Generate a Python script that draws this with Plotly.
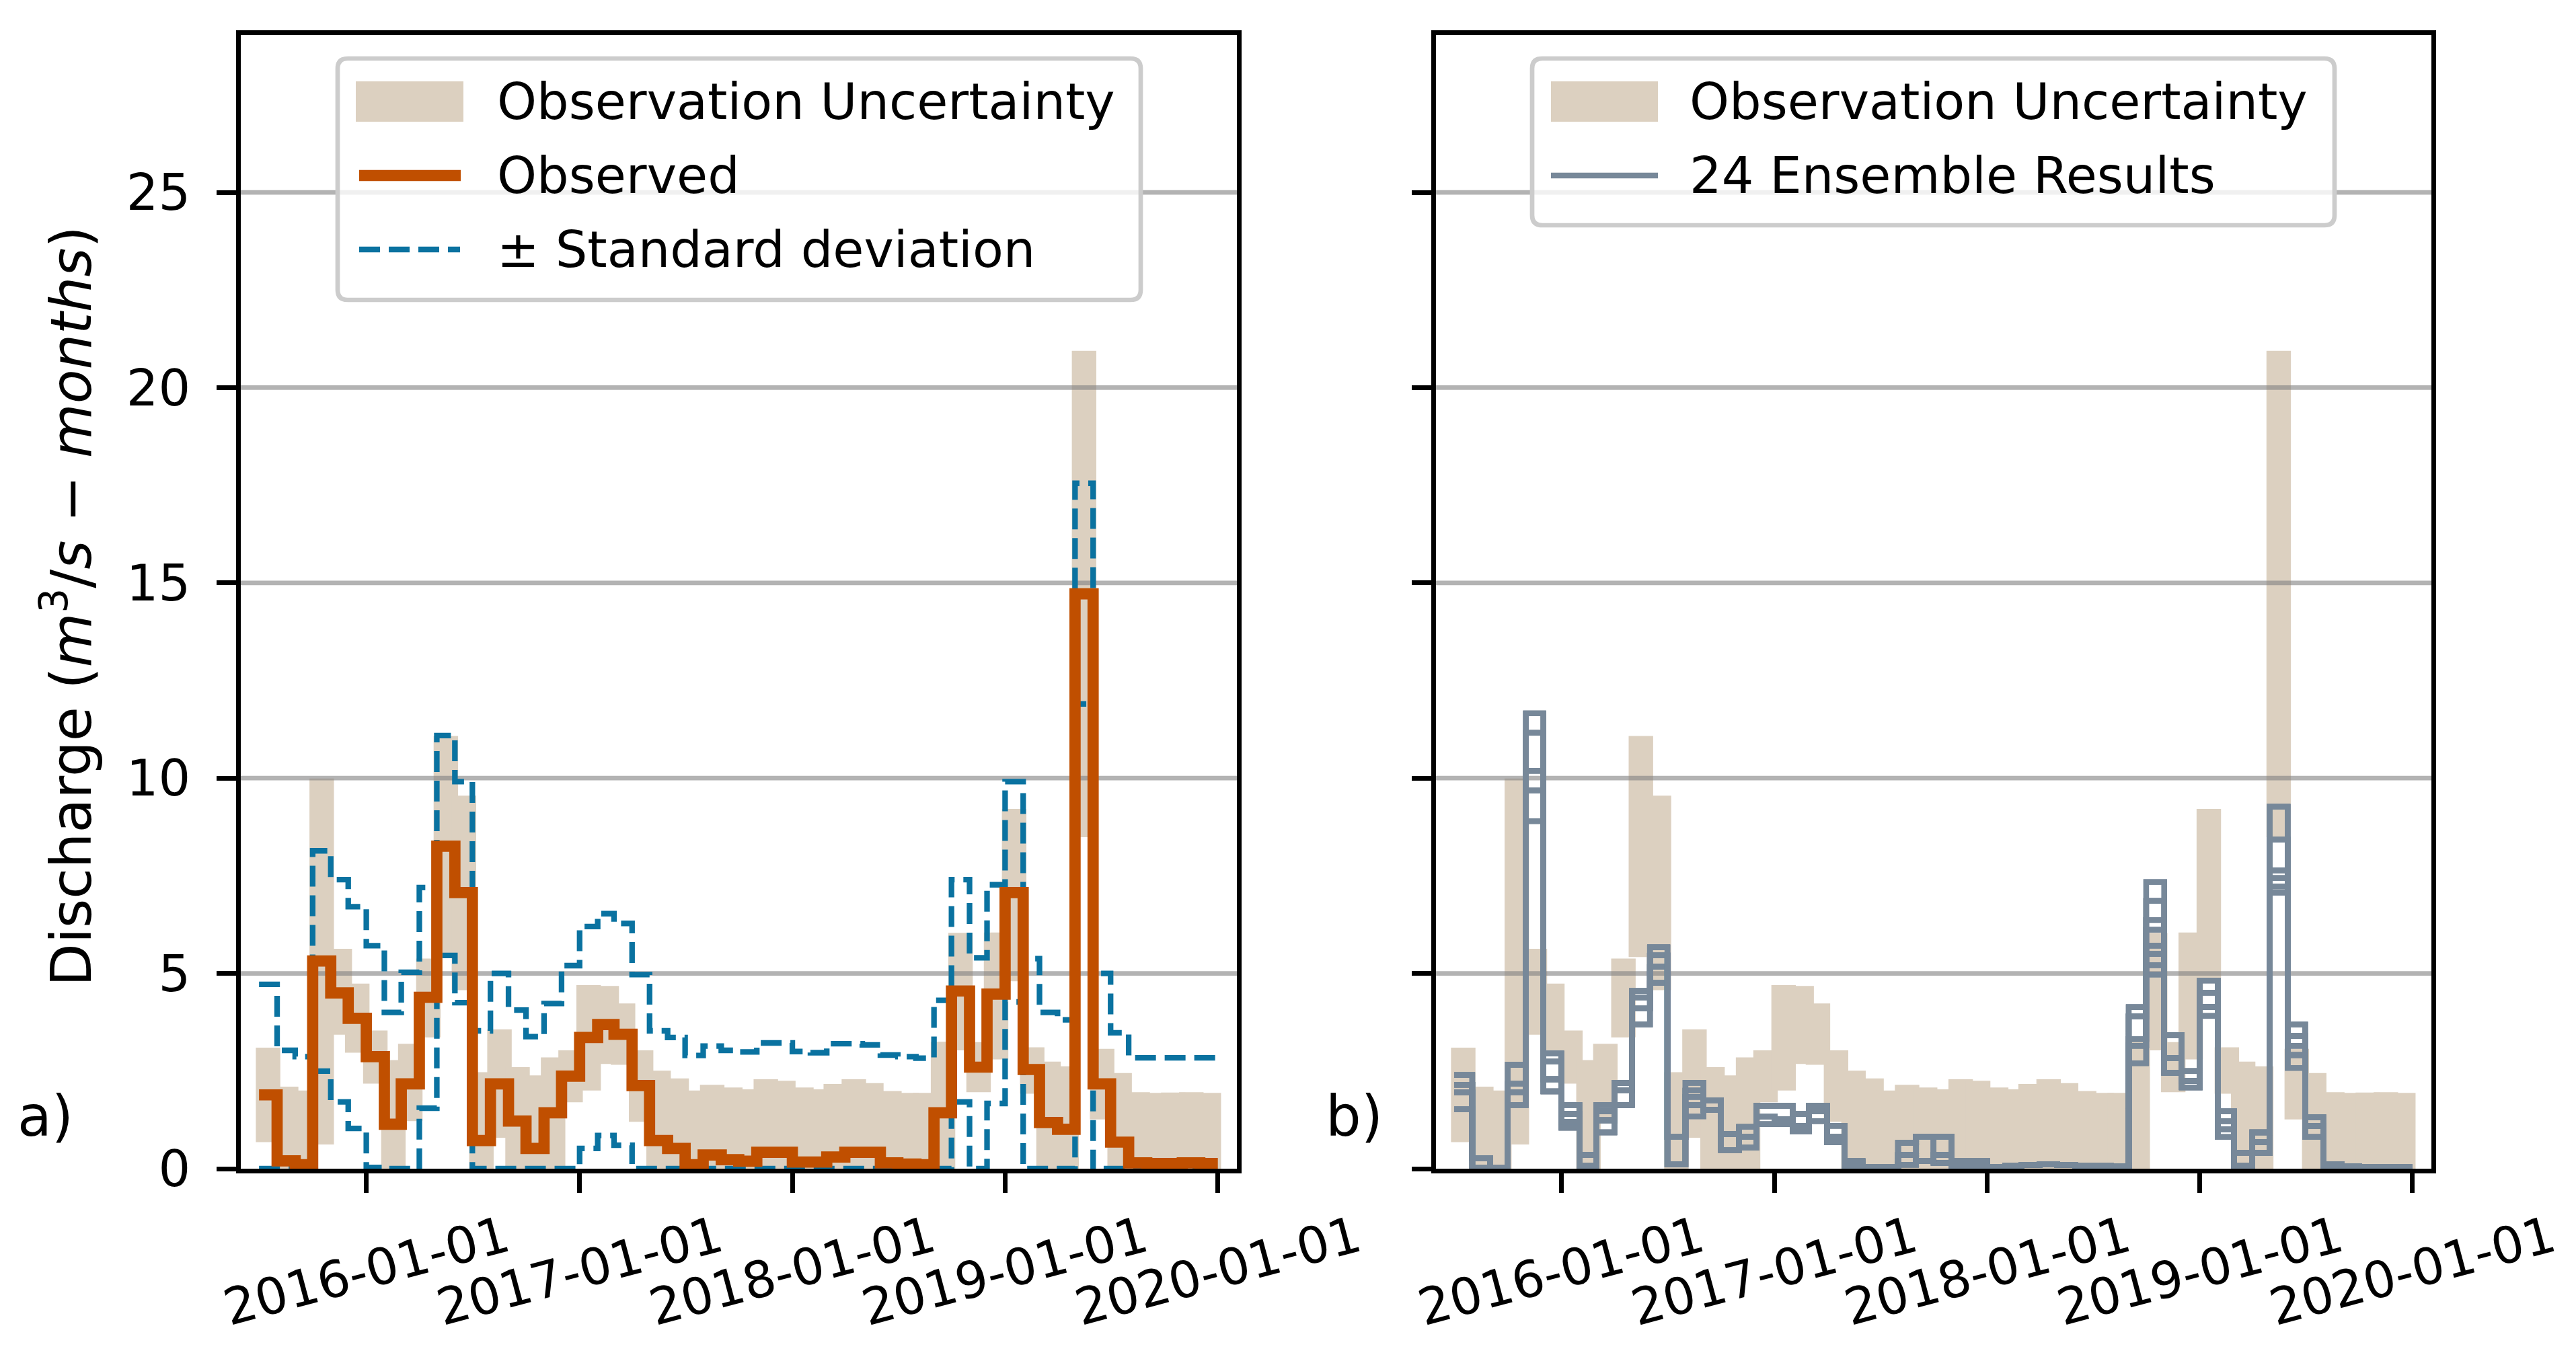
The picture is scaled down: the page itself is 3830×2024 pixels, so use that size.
import plotly.graph_objects as go
import pandas as pd

# ---------------- data ----------------
months = pd.date_range("2015-07-01", "2019-12-01", freq="MS")          # 54 monthly values
step_x = list(months) + [pd.Timestamp("2020-01-01")]                   # step edges
bar_x = list(months + pd.Timedelta(days=15, hours=12))                 # bar centres (mid-month)

observed = [1.89, 0.20, 0.10, 5.32, 4.50, 3.85,
            2.87, 1.14, 2.17, 4.39, 8.26, 7.07, 0.72, 2.17, 1.22, 0.52, 1.43, 2.37,
            3.36, 3.69, 3.44, 2.13, 0.72, 0.52, 0.10, 0.35, 0.23, 0.19, 0.42, 0.42,
            0.17, 0.17, 0.30, 0.42, 0.42, 0.15, 0.12, 0.10, 1.43, 4.55, 2.60, 4.47,
            7.07, 2.54, 1.18, 1.01, 14.72, 2.17, 0.68, 0.15, 0.13, 0.13, 0.15, 0.13]

std_upper = [4.72, 3.03, 2.87, 8.14, 7.40, 6.71,
             5.71, 4.00, 5.03, 7.20, 11.09, 9.91, 3.53, 5.00, 4.06, 3.38, 4.23, 5.20,
             6.20, 6.53, 6.28, 4.97, 3.53, 3.36, 2.90, 3.14, 3.03, 2.99, 3.22, 3.22,
             3.00, 2.97, 3.20, 3.20, 3.17, 2.91, 2.87, 2.83, 4.31, 7.40, 5.40, 7.27,
             9.91, 5.38, 4.00, 3.81, 17.55, 5.00, 3.48, 2.84, 2.84, 2.84, 2.84, 2.84]

std_lower = [0.00, 0.00, 0.00, 2.50, 1.71, 1.03,
             0.03, 0.00, 0.00, 1.55, 5.46, 4.25, 0.00, 0.00, 0.00, 0.00, 0.00, 0.00,
             0.52, 0.85, 0.60, 0.00, 0.00, 0.00, 0.00, 0.00, 0.00, 0.00, 0.00, 0.00,
             0.00, 0.00, 0.00, 0.00, 0.00, 0.00, 0.00, 0.00, 0.00, 1.71, 0.00, 1.67,
             4.27, 0.00, 0.00, 0.00, 11.90, 0.00, 0.00, 0.00, 0.00, 0.00, 0.00, 0.00]

unc_lower = [0.68, 0.00, 0.00, 0.62, 3.43, 2.97,
             2.18, 0.00, 1.22, 3.36, 5.42, 4.57, 0.00, 0.79, 0.00, 0.00, 0.00, 1.70,
             2.00, 2.68, 2.66, 1.20, 0.00, 0.00, 0.00, 0.00, 0.00, 0.00, 0.00, 0.00,
             0.00, 0.00, 0.00, 0.00, 0.00, 0.00, 0.00, 0.00, 0.00, 3.03, 1.96, 2.80,
             4.80, 1.92, 0.00, 0.00, 8.49, 1.26, 0.00, 0.00, 0.00, 0.00, 0.00, 0.00]

unc_upper = [3.10, 2.10, 2.00, 9.99, 5.63, 4.74,
             3.54, 2.78, 3.20, 5.38, 11.08, 9.55, 2.47, 3.57, 2.60, 2.39, 2.85, 3.03,
             4.70, 4.68, 4.23, 3.03, 2.51, 2.31, 2.00, 2.15, 2.08, 2.03, 2.29, 2.25,
             2.08, 2.03, 2.17, 2.29, 2.19, 1.99, 1.94, 1.94, 3.25, 6.04, 3.24, 6.05,
             9.21, 3.11, 2.74, 2.62, 20.94, 3.07, 2.45, 1.96, 1.94, 1.95, 1.96, 1.94]

# distinct levels of the 24 ensemble members for each month
ensemble_levels = [
    [2.40, 2.15, 1.95, 1.52], [0.27, 0.02], [0.02], [2.66, 2.17, 1.96, 1.63],
    [11.66, 11.16, 10.19, 9.69, 8.90], [2.95, 2.74, 2.29, 1.98],
    [1.63, 1.40, 1.20, 1.05], [0.35, 0.07], [1.63, 1.47, 1.24, 0.93], [2.20, 2.00, 1.63],
    [4.55, 4.39, 4.10, 3.69], [5.67, 5.46, 5.17, 4.76], [0.81, 0.11],
    [2.20, 2.00, 1.84, 1.63, 1.34], [1.75, 1.50], [0.89, 0.48], [1.07, 0.81, 0.54],
    [1.61, 1.34, 1.14],
    [1.61, 1.26, 1.14], [1.40, 1.10, 0.95], [1.61, 1.47, 1.22], [1.10, 0.81, 0.68],
    [0.19, 0.07], [0.05], [0.05], [0.66, 0.35, 0.10], [0.82, 0.19], [0.82, 0.35, 0.15],
    [0.19, 0.07], [0.19, 0.07],
    [0.05], [0.07], [0.10], [0.12], [0.10], [0.08], [0.07], [0.06],
    [4.14, 3.90, 3.32, 3.15, 2.70], [7.34, 6.86, 6.37, 6.12, 5.71, 5.50, 5.21, 4.97],
    [3.42, 2.83, 2.45], [2.50, 2.25, 2.08],
    [4.82, 4.51, 4.14, 3.91], [1.47, 1.22, 1.01, 0.81], [0.41, 0.07], [0.93, 0.68, 0.40],
    [9.27, 8.43, 7.64, 7.44, 7.23, 7.07], [3.69, 3.40, 3.15, 2.91, 2.58],
    [1.32, 1.10, 0.81], [0.12, 0.04], [0.06], [0.05], [0.05], [0.04],
]
n_members = 24

x_tick_dates = ["2016-01-01", "2017-01-01", "2018-01-01", "2019-01-01", "2020-01-01"]
y_ticks = [0, 5, 10, 15, 20, 25]

# ---------------- styling ----------------
W, H = 3830, 2024
OFF = 8          # the page's default body margin shifts the figure by this many pixels
FONT = "DejaVu Sans"
C_UNC = "#DCD0C0"
C_OBS = "#C04F00"
C_STD = "#0A72A0"
C_ENS = "#778899"
C_GRID = "rgba(128,128,128,0.6)"
LW_AX = 6.7
X_RANGE = ["2015-05-30 16:00", "2020-02-02 16:00"]
Y_RANGE = [0, 29.03]
DASH = "31px,13px"


def px(x):
    return (x - OFF) / W


def py(y):
    return 1 - (y - OFF) / H


def stepped(v):
    return list(v) + [v[-1]]


members = []
for k in range(n_members):
    m = []
    for lv in ensemble_levels:
        s = sorted(lv)
        m.append(s[round(k * (len(s) - 1) / (n_members - 1))])
    members.append(m)

fig = go.Figure()

bar_width_ms = 42 * 24 * 3600 * 1000
for xa, ya in (("x", "y"), ("x2", "y2")):
    fig.add_trace(go.Bar(
        x=bar_x, y=[u - l for u, l in zip(unc_upper, unc_lower)], base=unc_lower,
        width=bar_width_ms, marker=dict(color=C_UNC, line=dict(width=0)),
        xaxis=xa, yaxis=ya, showlegend=False, hoverinfo="skip"))
    # horizontal grid lines drawn above the bars, below the lines
    for v in y_ticks[1:]:
        fig.add_trace(go.Scatter(
            x=X_RANGE, y=[v, v], mode="lines", line=dict(color=C_GRID, width=LW_AX),
            xaxis=xa, yaxis=ya, showlegend=False, hoverinfo="skip"))

# panel a
for series in (std_upper, std_lower):
    fig.add_trace(go.Scatter(
        x=step_x, y=stepped(series), mode="lines", line_shape="hv",
        line=dict(color=C_STD, width=8.3, dash=DASH),
        xaxis="x", yaxis="y", showlegend=False))
fig.add_trace(go.Scatter(
    x=step_x, y=stepped(observed), mode="lines", line_shape="hv",
    line=dict(color=C_OBS, width=16.7), xaxis="x", yaxis="y", showlegend=False))

# panel b
for m in members:
    fig.add_trace(go.Scatter(
        x=step_x, y=stepped(m), mode="lines", line_shape="hv",
        line=dict(color=C_ENS, width=8.3), xaxis="x2", yaxis="y2", showlegend=False))

dom_x1 = [px(358), px(1839)]
dom_x2 = [px(2135), px(3615)]
dom_y = [py(1738), py(52)]

axis_common = dict(showline=True, linecolor="black", linewidth=LW_AX, mirror=True,
                   ticks="outside", ticklen=29, tickwidth=LW_AX, tickcolor="black",
                   showgrid=False, zeroline=False, automargin=False)

fig.update_layout(
    width=W, height=H, margin=dict(l=0, r=0, t=0, b=0, pad=0, autoexpand=False),
    paper_bgcolor="white", plot_bgcolor="white", barmode="overlay",
    showlegend=False, font=dict(family=FONT, size=75, color="black"),
    xaxis=dict(domain=dom_x1, type="date", range=X_RANGE, tickvals=x_tick_dates,
               showticklabels=False, anchor="y", **axis_common),
    xaxis2=dict(domain=dom_x2, type="date", range=X_RANGE, tickvals=x_tick_dates,
                showticklabels=False, anchor="y2", **axis_common),
    yaxis=dict(domain=dom_y, range=Y_RANGE, tickvals=y_ticks, anchor="x",
               tickfont=dict(size=75), ticklabelstandoff=24, **axis_common),
    yaxis2=dict(domain=dom_y, range=Y_RANGE, tickvals=y_ticks, anchor="x2",
                showticklabels=False, **axis_common),
)

ann = []
for xr in ("x", "x2"):
    for d in x_tick_dates:
        ann.append(dict(x=d, xref=xr, y=py(1890), yref="paper", text=d,
                        textangle=-15, showarrow=False, xanchor="center", yanchor="middle",
                        font=dict(size=75)))
ann.append(dict(x=px(100), y=py(902), xref="paper", yref="paper", textangle=-90,
                text="Discharge (<i>m</i><sup>3</sup>/<i>s</i> \u2212 <i>months</i>)",
                showarrow=False, xanchor="center", yanchor="middle", font=dict(size=83)))
ann.append(dict(x=px(67), y=py(1660), xref="paper", yref="paper", text="a)",
                showarrow=False, xanchor="center", yanchor="middle", font=dict(size=83)))
ann.append(dict(x=px(2013), y=py(1660), xref="paper", yref="paper", text="b)",
                showarrow=False, xanchor="center", yanchor="middle", font=dict(size=83)))


# ---------------- legends (drawn by hand, pixel layout of the reference) ----------------
def rounded_rect(x0, y0, x1, y1, r):
    X0, X1 = px(x0), px(x1)
    Y0, Y1 = py(y0), py(y1)
    rx, ry = r / W, r / H
    return (f"M {X0 + rx},{Y0} L {X1 - rx},{Y0} Q {X1},{Y0} {X1},{Y0 - ry} "
            f"L {X1},{Y1 + ry} Q {X1},{Y1} {X1 - rx},{Y1} L {X0 + rx},{Y1} "
            f"Q {X0},{Y1} {X0},{Y1 + ry} L {X0},{Y0 - ry} Q {X0},{Y0} {X0 + rx},{Y0} Z")


shapes = []


def legend(frame, entries, text_x):
    x0, y0, x1, y1 = frame
    shapes.append(dict(type="path", path=rounded_rect(x0, y0, x1, y1, 15), xref="paper",
                       yref="paper", fillcolor="rgba(255,255,255,0.8)",
                       line=dict(color="#CCCCCC", width=6.7), layer="above"))
    for kind, sx0, sx1, yc, label in entries:
        if kind == "patch":
            shapes.append(dict(type="rect", xref="paper", yref="paper", x0=px(sx0), x1=px(sx1),
                               y0=py(yc + 30), y1=py(yc - 30), fillcolor=C_UNC,
                               line=dict(width=0), layer="above"))
        else:
            style = {"obs": dict(color=C_OBS, width=16.7),
                     "std": dict(color=C_STD, width=8.3, dash=DASH),
                     "ens": dict(color=C_ENS, width=8.3)}[kind]
            shapes.append(dict(type="line", xref="paper", yref="paper", x0=px(sx0), x1=px(sx1),
                               y0=py(yc), y1=py(yc), line=style, layer="above"))
        ann.append(dict(x=px(text_x), y=py(yc), xref="paper", yref="paper", text=label,
                        showarrow=False, xanchor="left", yanchor="middle",
                        font=dict(size=75)))


legend((502, 87, 1696, 446),
       [("patch", 529, 689, 151, "Observation Uncertainty"),
        ("obs", 534, 685, 261, "Observed"),
        ("std", 534, 684, 371, "\u00b1 Standard deviation")], 737)
legend((2278, 87, 3471, 335),
       [("patch", 2306, 2465, 151, "Observation Uncertainty"),
        ("ens", 2306, 2465, 261, "24 Ensemble Results")], 2510)

fig.update_layout(annotations=ann, shapes=shapes)
fig.write_html("out.html")
